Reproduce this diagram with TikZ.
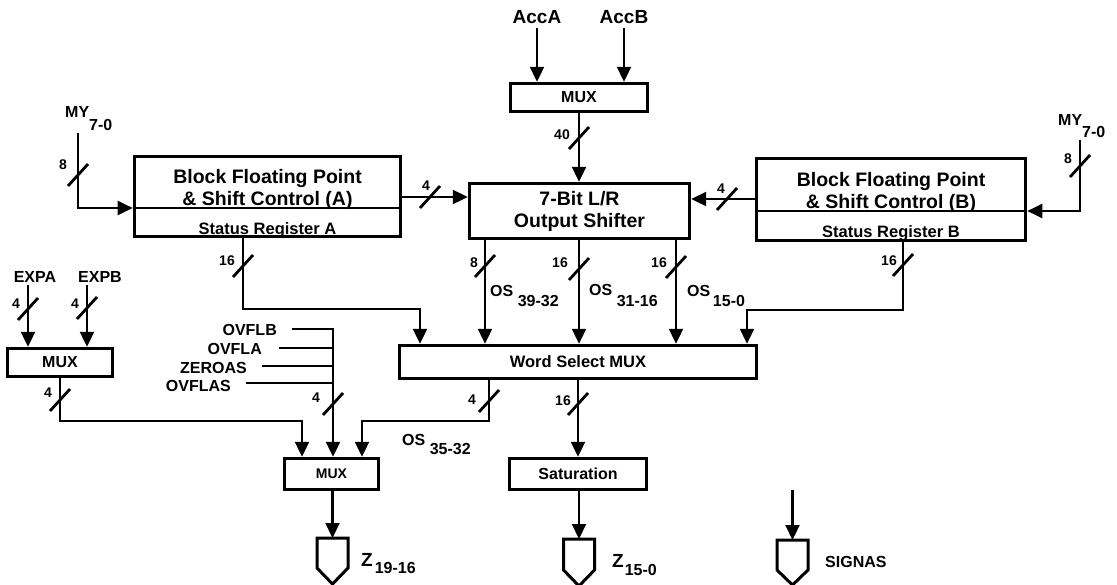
\documentclass[tikz,border=0pt]{standalone}
\usepackage{fontspec}
\setmainfont{Liberation Sans}
\usetikzlibrary{arrows.meta}

\newcommand*{\wdth}{1117}
\newcommand*{\hght}{584}
\newcommand*{\blkfont}{\bfseries\fontsize{19.5}{22}\selectfont}
\newcommand*{\regfont}{\bfseries\fontsize{16.5}{19}\selectfont}
\newcommand*{\sigfont}{\bfseries\fontsize{16}{19}\selectfont}
\newcommand*{\accfont}{\bfseries\fontsize{19}{22}\selectfont}
\newcommand*{\busfont}{\bfseries\fontsize{14}{16}\selectfont}
\newcommand*{\smuxfont}{\bfseries\fontsize{14}{16}\selectfont}

\begin{document}
\begin{tikzpicture}
[
	x=1pt,y=-1pt,
	>={Triangle[length=15pt,width=14pt]},
	wire/.style={line width=2.1pt},
	slash/.style={line width=2.8pt},
	heavy/.style={draw,line width=3.6pt,inner sep=0pt},
	box/.style={draw,line width=3.4pt,inner sep=0pt,font=\sigfont},
	outsig/.style={draw,line width=3pt},
	blktxt/.style={font=\blkfont,align=center,inner sep=0pt},
	regtxt/.style={font=\regfont,inner sep=0pt},
	lbl/.style={font=\sigfont,inner sep=0pt},
	acclbl/.style={font=\accfont,inner sep=0pt},
	buslbl/.style={font=\busfont,inner sep=0pt}
]

	\useasboundingbox (0,0) rectangle (\wdth,\hght);

	% block floating point units
	\node[heavy,minimum width=266pt,minimum height=80pt] (bfpA) at (267.5,196.5) {};
	\node[heavy,minimum width=269pt,minimum height=82pt] (bfpB) at (891,199.5) {};
	\coordinate (divA) at (0,208);
	\coordinate (divB) at (0,211);
	\draw[wire] (bfpA.west |- divA) -- (bfpA.east |- divA);
	\draw[wire] (bfpB.west |- divB) -- (bfpB.east |- divB);
	\node[blktxt] (bfpAtxt) at (267.5,189) {Block Floating Point\\\& Shift Control (A)};
	\node[blktxt] (bfpBtxt) at (891,192) {Block Floating Point\\\& Shift Control (B)};
	\node[regtxt,anchor=base] (srA) at (267.5,234) {Status Register A};
	\node[regtxt,anchor=base] (srB) at (891,237) {Status Register B};

	% shifter and muxes
	\node[box,font=\blkfont,align=center,minimum width=220pt,minimum height=55pt] (shifter) at (579.5,211) {7-Bit L/R\\Output Shifter};
	\node[box,minimum width=137pt,minimum height=28pt] (muxT) at (579,97.5) {MUX};
	\node[box,font=\regfont,minimum width=357pt,minimum height=33pt] (wsm) at (578,362) {Word Select MUX};
	\node[box,minimum width=105pt,minimum height=28pt] (muxE) at (60,362.5) {MUX};
	\node[box,font=\smuxfont,minimum width=94pt,minimum height=31pt] (muxZ) at (331.5,474) {MUX};
	\node[box,minimum width=137pt,minimum height=31pt] (sat) at (578,474) {Saturation};

	% inputs
	\node[acclbl] (accA) at (537,17) {AccA};
	\node[acclbl] (accB) at (624,17) {AccB};
	\draw[wire,->] ([yshift=-4pt]accA.south) -- (accA.south |- muxT.north);
	\draw[wire,->] ([yshift=-4pt]accB.south) -- (accB.south |- muxT.north);
	\draw[wire,->] (muxT.south) -- (muxT.south |- shifter.north);

	\node[lbl,anchor=base west] (myAlbl) at (65,117) {MY\raisebox{-13pt}{7-0}};
	\node[lbl,anchor=base west] (myBlbl) at (1058,125) {MY\raisebox{-12pt}{7-0}};
	\coordinate (myA) at (78,133);
	\coordinate (myB) at (1080,140);
	\draw[wire,->] (myA) |- (bfpA.west |- divA);
	\draw[wire,->] (myB) |- (bfpB.east |- divB);

	\coordinate (lnkA) at (0,197);
	\coordinate (lnkB) at (0,199);
	\draw[wire,->] (bfpA.east |- lnkA) -- (shifter.west |- lnkA);
	\draw[wire,->] (bfpB.west |- lnkB) -- (shifter.east |- lnkB);

	% buses to word select mux
	\coordinate (busA) at (420,309);
	\coordinate (busB) at (747,310);
	\draw[wire,->] (bfpA.south -| 243,0) |- (busA) -- (busA |- wsm.north);
	\draw[wire,->] (bfpB.south -| 903,0) |- (busB) -- (busB |- wsm.north);
	\draw[wire,->] (shifter.south -| 485,0) -- (wsm.north -| 485,0);
	\draw[wire,->] (shifter.south -| 579,0) -- (wsm.north -| 579,0);
	\draw[wire,->] (shifter.south -| 676,0) -- (wsm.north -| 676,0);

	\node[lbl,anchor=base west] (os1) at (490,296) {OS \raisebox{-10pt}{39-32}};
	\node[lbl,anchor=base west] (os2) at (589,295) {OS \raisebox{-11pt}{31-16}};
	\node[lbl,anchor=base west] (os3) at (687,296) {OS\,\raisebox{-10pt}{15-0}};

	% exponent mux
	\node[lbl] (expa) at (35,277) {EXPA};
	\node[lbl] (expb) at (100,277) {EXPB};
	\coordinate (expain) at (28,285);
	\coordinate (expbin) at (87,285);
	\draw[wire,->] (expain) -- (expain |- muxE.north);
	\draw[wire,->] (expbin) -- (expbin |- muxE.north);

	% flags
	\node[lbl,anchor=east] (ovflb) at (277,330) {OVFLB};
	\node[lbl,anchor=east] (ovfla) at (262,349) {OVFLA};
	\node[lbl,anchor=east] (zeroas) at (247,368) {ZEROAS};
	\node[lbl,anchor=east] (ovflas) at (231,386) {OVFLAS};
	\coordinate (flg) at (333,421);
	\draw[wire,->] ([xshift=15pt,yshift=1pt]ovflb.east) -| (muxZ.north -| flg);
	\draw[wire] ([xshift=17pt,yshift=1pt]ovfla.east) -- ([yshift=1pt]ovfla.east -| flg);
	\draw[wire] ([xshift=15pt,yshift=2pt]zeroas.east) -- ([yshift=2pt]zeroas.east -| flg);
	\draw[wire] ([xshift=15pt,yshift=3pt]ovflas.east) -- ([yshift=3pt]ovflas.east -| flg);

	% into the lower mux
	\coordinate (zin1) at (302,421);
	\coordinate (zin3) at (362,421);
	\draw[wire,->] (muxE.south) |- (zin1) -- (zin1 |- muxZ.north);
	\draw[wire,->] (wsm.south -| 489,0) |- (zin3) -- (zin3 |- muxZ.north);
	\node[lbl,anchor=base west] (os4) at (402,445) {OS \raisebox{-9pt}{35-32}};
	\draw[wire,->] (wsm.south -| sat.north) -- (sat.north);

	% outputs
	\coordinate (zhi) at (332.5,538);
	\coordinate (zlo) at (579,539);
	\coordinate (sgn) at (792.5,540);
	\coordinate (sgnin) at (792.5,490);
	\draw[outsig] (zhi) ++(-15.5,0) -- ++(0,30) -- ++(15.5,16) -- ++(15.5,-16) -- ++(0,-30) -- cycle;
	\draw[outsig] (zlo) ++(-15.5,0) -- ++(0,31) -- ++(15.5,16) -- ++(15.5,-16) -- ++(0,-31) -- cycle;
	\draw[outsig] (sgn) ++(-15.5,0) -- ++(0,30) -- ++(15.5,15) -- ++(15.5,-15) -- ++(0,-30) -- cycle;
	\draw[wire,->] (muxZ.south -| zhi) -- (zhi);
	\draw[wire,->] (sat.south -| zlo) -- (zlo);
	\draw[wire,->] (sgnin) -- (sgn);
	\node[acclbl,anchor=base west] (zhilbl) at (361,566) {Z\hspace{2pt}\raisebox{-7pt}{\sigfont 19-16}};
	\node[acclbl,anchor=base west] (zlolbl) at (612,567) {Z\hspace{1pt}\raisebox{-8pt}{\sigfont 15-0}};
	\node[lbl,anchor=west] (sgnlbl) at (825,562) {SIGNAS};

	% bus widths
	\draw[slash] (78,175) +(-10,11) -- +(10,-11);
	\node[buslbl] (w1) at (63,165) {8};
	\draw[slash] (1080,166) +(-10,11) -- +(10,-11);
	\node[buslbl] (w2) at (1068,159) {8};
	\draw[slash] (579,138) +(-10,11) -- +(10,-11);
	\node[buslbl] (w3) at (562,135) {40};
	\draw[slash] (430,197) +(-10,11) -- +(10,-11);
	\node[buslbl] (w4) at (426,186) {4};
	\draw[slash] (727,199) +(-10,11) -- +(10,-11);
	\node[buslbl] (w5) at (721,189) {4};
	\draw[slash] (243,266) +(-10,11) -- +(10,-11);
	\node[buslbl] (w6) at (227,261) {16};
	\draw[slash] (903,265) +(-10,11) -- +(10,-11);
	\node[buslbl] (w7) at (889,261) {16};
	\draw[slash] (485,266) +(-10,11) -- +(10,-11);
	\node[buslbl] (w8) at (474,263) {8};
	\draw[slash] (579,269) +(-10,11) -- +(10,-11);
	\node[buslbl] (w9) at (560,263) {16};
	\draw[slash] (676,267) +(-10,11) -- +(10,-11);
	\node[buslbl] (w10) at (659,263) {16};
	\draw[slash] (28,309) +(-10,11) -- +(10,-11);
	\node[buslbl] (w11) at (16,304) {4};
	\draw[slash] (87,308) +(-10,11) -- +(10,-11);
	\node[buslbl] (w12) at (75,304) {4};
	\draw[slash] (60,400) +(-10,11) -- +(10,-11);
	\node[buslbl] (w13) at (48,393) {4};
	\draw[slash] (333,404) +(-10,11) -- +(10,-11);
	\node[buslbl] (w14) at (316,398) {4};
	\draw[slash] (489,401) +(-10,11) -- +(10,-11);
	\node[buslbl] (w15) at (472,400) {4};
	\draw[slash] (578,404) +(-10,11) -- +(10,-11);
	\node[buslbl] (w16) at (563,401) {16};

\end{tikzpicture}
\end{document}
